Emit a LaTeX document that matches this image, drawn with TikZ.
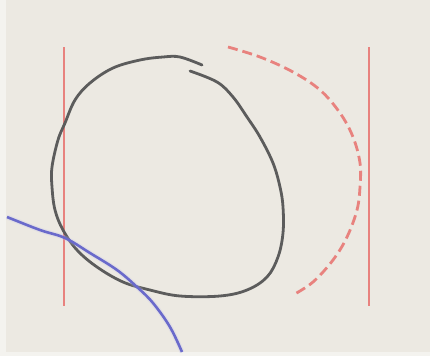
\documentclass[tikz,border=0pt]{standalone}
\usepackage{tikz}

\definecolor{canvasbg}{HTML}{ECE9E2}
\definecolor{edgebg}{HTML}{F4F3EF}
\definecolor{wallred}{HTML}{E8827E}
\definecolor{loopgray}{HTML}{5C5C5C}
\definecolor{pathblue}{HTML}{6A6ACB}

\begin{document}
\begin{tikzpicture}[x=1pt, y=-1pt,
                    wall/.style={line width=2.9pt, wallred},
                    loopline/.style={line width=2.8pt, loopgray, line cap=round},
                    bluepath/.style={line width=2.6pt, pathblue},
                    arcdash/.style={line width=2.8pt, wallred, dash pattern=on 10pt off 5pt}]
                    % Background
                    \fill[edgebg] (0,0) rectangle (430,356);
                    \fill[canvasbg] (6,0) rectangle (430,352);
                    \useasboundingbox (0,0) rectangle (430,356);

                    % Walls
                    \draw[wall] (64,47) -- (64,306);
                    \draw[wall] (369,47) -- (369,306);

                    % Dashed arc on the right
                    \draw[arcdash] plot[smooth, tension=0.6] coordinates {
                        (228,47) (260,57) (293,72) (320,90) (340,113) (353,137)
                        (360,163) (360,187) (357,210) (347,237) (333,260) (313,282) (293,295)};

                    % Open loop
                    \draw[loopline] plot[smooth, tension=0.6] coordinates {
                        (202,65) (180,57) (163,57) (140,60) (113,68) (90,83) (75,100)
                        (65,123) (58,140) (52,167) (52,187) (55,210) (63,230) (77,250)
                        (97,267) (123,282) (150,290) (180,296) (220,296) (247,290)
                        (267,277) (278,257) (283,233) (283,207) (280,187) (273,163)
                        (260,137) (247,117) (233,97) (217,82) (190,71)};

                    % Blue curve
                    \draw[white!60!pathblue, opacity=0.25, line width=5pt] plot[smooth, tension=0.6] coordinates {
                        (7,217) (40,230) (65,238) (90,253) (117,270) (137,287)
                        (153,303) (170,327) (182,352)};
                    \draw[bluepath] plot[smooth, tension=0.6] coordinates {
                        (7,217) (40,230) (65,238) (90,253) (117,270) (137,287)
                        (153,303) (170,327) (182,352)};
                \end{tikzpicture}
\end{document}
